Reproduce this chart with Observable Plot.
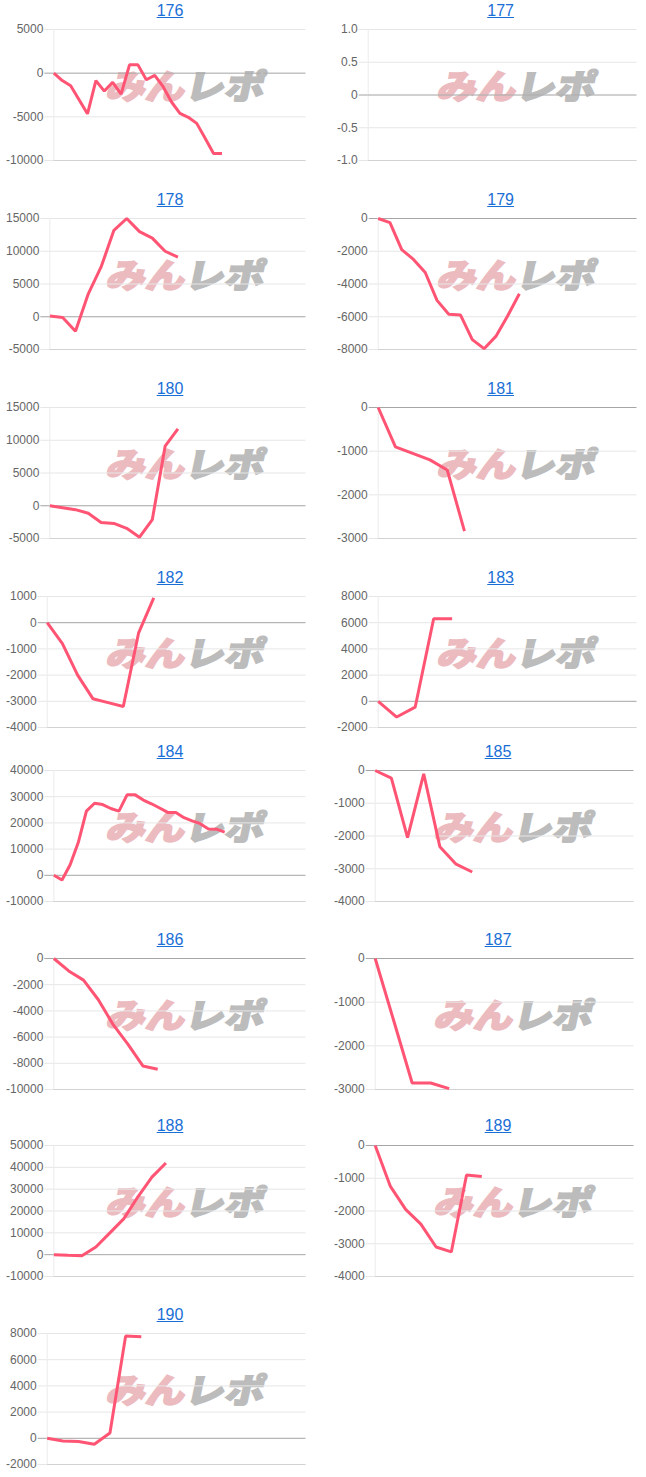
<!DOCTYPE html>
<html><head><meta charset="utf-8">
<script src="https://cdn.jsdelivr.net/npm/d3@7"></script>
<script src="https://cdn.jsdelivr.net/npm/@observablehq/plot@0.6"></script>
<style>
body{margin:0;background:#fff;}
#root{position:relative;width:646px;height:1477px;overflow:hidden;font-family:"Liberation Sans",Arial,sans-serif;}
.title{position:absolute;width:120px;margin-left:-60px;text-align:center;font-size:16px;line-height:18px;}
.title a{color:#1a6fd6;text-decoration:underline;}
.wm{position:absolute;width:170px;height:34px;text-align:center;white-space:nowrap;font-family:"Noto Sans CJK JP",sans-serif;font-weight:900;font-size:34px;line-height:34px;}
.wm .inner{display:inline-block;transform:skewX(-12deg) scaleX(1.16);letter-spacing:0px;}
.wm .p{color:#ecbbbf;-webkit-text-stroke:1.6px #ecbbbf;}
.wm .g{color:#bcbcbc;-webkit-text-stroke:1.6px #bcbcbc;}
.chart{position:absolute;}
</style></head>
<body><div id="root"></div>
<script>
// chart ids
const ids = ["176","177","178","179","180","181","182","183","184","185","186","187","188","189","190"];
// series values (cumulative balance)
const v176 = [0, -850, -1450, -3050, -4650, -850, -2050, -1050, -2400, 950, 950, -750, -250, -1550, -3300, -4600, -5050, -5750, -7450, -9200, -9200];
const v177 = [];
const v178 = [100, -100, -2200, 3500, 7600, 13200, 15000, 13000, 12000, 10000, 9100];
const v179 = [0, -250, -1900, -2500, -3300, -5000, -5850, -5900, -7400, -7950, -7200, -5950, -4600];
const v180 = [0, -300, -600, -1150, -2550, -2700, -3450, -4800, -2100, 9100, 11750];
const v181 = [0, -900, -1050, -1200, -1430, -2830];
const v182 = [0, -800, -2000, -2900, -3050, -3200, -400, 950];
const v183 = [0, -1200, -450, 6300, 6300];
const v184 = [0, -1800, 4000, 12500, 24500, 27500, 27000, 25500, 24500, 30700, 30700, 28700, 27300, 25700, 24000, 24000, 22000, 20800, 19700, 17700, 17600, 16500];
const v185 = [0, -230, -2050, -100, -2330, -2860, -3100];
const v186 = [0, -950, -1650, -3150, -5050, -6550, -8200, -8450];
const v187 = [0, -1420, -2850, -2850, -2980];
const v188 = [0, -300, -500, 3500, 10000, 16500, 26500, 35500, 42000];
const v189 = [0, -1250, -1950, -2400, -3100, -3250, -900, -950];
const v190 = [0, -200, -250, -450, 400, 7800, 7750];
// number of x categories (intervals) on each chart
const xCounts = [30, 30, 20, 22, 20, 15, 17, 14, 31, 16, 17, 14, 18, 17, 16.5];
// y tick values
const t176 = [-10000, -5000, 0, 5000];
const t177 = [-1, -0.5, 0, 0.5, 1];
const t178 = [-5000, 0, 5000, 10000, 15000];
const t179 = [-8000, -6000, -4000, -2000, 0];
const t180 = [-5000, 0, 5000, 10000, 15000];
const t181 = [-3000, -2000, -1000, 0];
const t182 = [-4000, -3000, -2000, -1000, 0, 1000];
const t183 = [-2000, 0, 2000, 4000, 6000, 8000];
const t184 = [-10000, 0, 10000, 20000, 30000, 40000];
const t185 = [-4000, -3000, -2000, -1000, 0];
const t186 = [-10000, -8000, -6000, -4000, -2000, 0];
const t187 = [-3000, -2000, -1000, 0];
const t188 = [-10000, 0, 10000, 20000, 30000, 40000, 50000];
const t189 = [-4000, -3000, -2000, -1000, 0];
const t190 = [-2000, 0, 2000, 4000, 6000, 8000];

const series = [v176, v177, v178, v179, v180, v181, v182, v183, v184, v185, v186, v187, v188, v189, v190];
const ticks = [t176, t177, t178, t179, t180, t181, t182, t183, t184, t185, t186, t187, t188, t189, t190];

// layout
const rowTops = [29, 218, 407, 596, 770, 958, 1144.5, 1333];
const colX = (row, col) => col === 0 ? 0 : (row < 4 ? 330.6 : 328);
const PLOT_H = 131, MT = 8, MB = 8, W = 310, MR = 4.5;

const root = document.getElementById("root");
const cv = document.createElement("canvas").getContext("2d");
cv.font = "12px 'Liberation Sans', Arial";

const fmt = (t) => (t.some(d => !Number.isInteger(d))) ? (d => d === 0 ? "0" : d.toFixed(1)) : (d => String(d));

ids.forEach((id, k) => {
  const row = Math.floor(k / 2), col = k % 2;
  const x0 = colX(row, col), top = rowTops[row];
  const tk = ticks[k], f = fmt(tk);
  const maxW = d3.max(tk, d => cv.measureText(f(d)).width);
  const ml = 16 + maxW;
  const ymin = d3.min(tk), ymax = d3.max(tk);
  const data = series[k].map((v, i) => ({i, v}));

  // watermark
  const wm = document.createElement("div");
  wm.className = "wm";
  wm.style.left = (x0 + 187 - 85) + "px";
  wm.style.top = (top + 39) + "px";
  wm.innerHTML = '<span class="inner"><span class="p">みん</span><span class="g">レポ</span></span>';
  root.appendChild(wm);

  const svg = Plot.plot({
    width: W, height: PLOT_H + MT + MB,
    marginLeft: ml, marginRight: MR, marginTop: MT, marginBottom: MB,
    style: {background: "transparent", fontFamily: "'Liberation Sans', Arial, sans-serif", fontSize: "12px", color: "#666", overflow: "visible"},
    x: {domain: [0, xCounts[k]], axis: null},
    y: {domain: [ymin, ymax], axis: null},
    marks: [
      Plot.ruleY(tk, {stroke: "#e6e6e6"}),
      Plot.ruleY([ymin], {stroke: "#d2d2d2"}),
      Plot.ruleX([0], {stroke: "#ebebeb"}),
      Plot.ruleY([0], {stroke: "rgba(0,0,0,0.28)"}),
      Plot.axisY({ticks: tk, tickSize: 9, tickPadding: 1.5, tickFormat: f, stroke: "#e6e6e6", color: "#666", fontSize: 12, label: null, textStroke: "none"}),
      Plot.axisY({ticks: [0], tickSize: 9, tickFormat: () => "", stroke: "rgba(0,0,0,0.28)", label: null}),
      Plot.line(data, {x: "i", y: "v", stroke: "#ff5473", strokeWidth: 3, strokeLinejoin: "miter", strokeLinecap: "butt"})
    ]
  });
  svg.classList.add("chart");
  svg.style.left = x0 + "px";
  svg.style.top = (top - MT) + "px";
  root.appendChild(svg);

  const t = document.createElement("div");
  t.className = "title";
  t.style.left = (x0 + 170) + "px";
  t.style.top = (top - 27.5) + "px";
  t.innerHTML = '<a href="#">' + id + '</a>';
  root.appendChild(t);
});
</script>
</body></html>
